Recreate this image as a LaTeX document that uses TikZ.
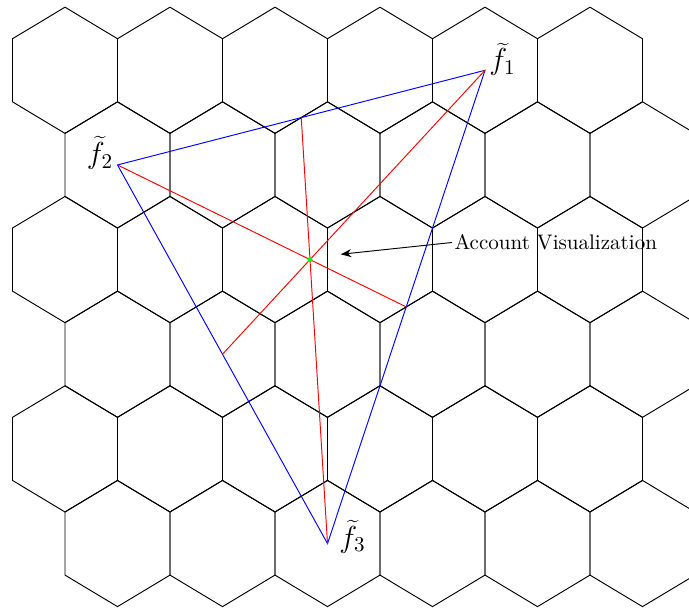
\documentclass[tikz,border=0pt]{standalone}
\usetikzlibrary{calc,arrows.meta}
\begin{document}
\begin{tikzpicture}[x=0.475pt,y=-0.475pt,
  hexline/.style={line width=0.45pt, black},
  triline/.style={line width=0.45pt, blue},
  medline/.style={line width=0.45pt, red},
  lbl/.style={inner sep=0pt, font=\Large}]
\useasboundingbox (0,0) rectangle (689,608);
\clip (0,0) rectangle (689,608);
\def\hw{52.5}\def\hr{63.1}\def\hh{31.55}
\foreach \j in {0,...,5} {
  \pgfmathsetmacro{\cy}{70.3+94.65*\j}
  \pgfmathsetmacro{\xo}{mod(\j,2)==0 ? 65 : 117.5}
  \foreach \k in {0,...,5} {
    \pgfmathsetmacro{\cx}{\xo+105*\k}
    \draw[hexline] (\cx,\cy-\hr) -- ++(\hw,\hh) -- ++(0,\hr) -- ++(-\hw,\hh) -- ++(-\hw,-\hh) -- ++(0,-\hr) -- cycle;
  }
}
\coordinate (f1) at (485,70.3);
\coordinate (f2) at (117.5,164.95);
\coordinate (f3) at (327.5,543.55);
\coordinate (g) at (310,259.6);
\coordinate (tgt) at (340.7,254.3);
\draw[triline] (f1) -- (f2) -- (f3) -- cycle;
\draw[medline] (f1) -- ($(f2)!0.5!(f3)$);
\draw[medline] (f2) -- ($(f1)!0.5!(f3)$);
\draw[medline] (f3) -- ($(f1)!0.5!(f2)$);
\fill[green] (g) circle (2.6);
\node[lbl, anchor=base west] (l1) at (489,70) {$\widetilde{f}_1$};
\node[lbl, anchor=base east] (l2) at (113.5,163.5) {$\widetilde{f}_2$};
\node[lbl, anchor=base west] (l3) at (339,547.2) {$\widetilde{f}_3$};
\node[anchor=west, inner sep=1pt] (acc) at (452,242.5) {Account Visualization};
\draw[-{Stealth}, line width=0.45pt] (acc.west) -- (tgt);
\end{tikzpicture}
\end{document}
